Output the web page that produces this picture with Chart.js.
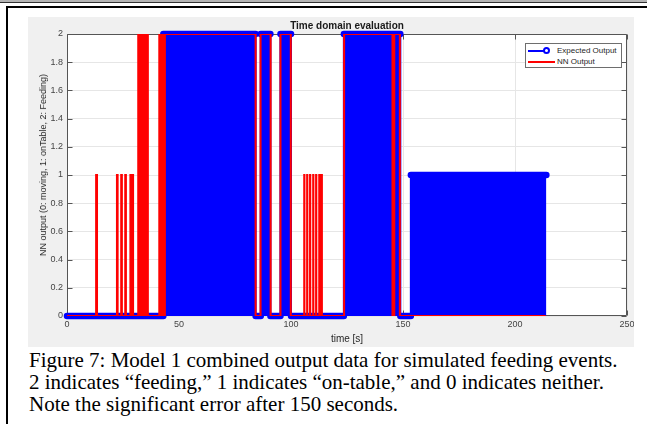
<!DOCTYPE html>
<html>
<head>
<meta charset="utf-8">
<title>Time domain evaluation</title>
<script src="https://cdn.jsdelivr.net/npm/chart.js@4.4.1/dist/chart.umd.min.js"></script>
<style>
  html, body { margin: 0; padding: 0; background: #fff; }
  body { width: 647px; height: 424px; position: relative; overflow: hidden; }
  .topbar { position: absolute; left: 0; top: 0; width: 647px; height: 2px; background: #b4b4b4; border-bottom: 1px solid #333; }
  .frame { position: absolute; left: 6px; top: 6px; width: 660px; height: 440px; border-left: 2px solid #000; border-top: 2px solid #000; }
  .plot { position: absolute; left: 28px; top: 17px; width: 606px; height: 330px; background: #f0f0f0; }
  .ylabel { position: absolute; left: 43px; top: 165px; transform: translate(-50%, -50%) rotate(-90deg); white-space: nowrap;
            font-family: Arial, "Liberation Sans", sans-serif; font-size: 9px; color: #262626; }
  .legend { position: absolute; left: 525px; top: 43px; width: 95px; height: 23px; background: #fff; border: 1px solid #6e6e6e;
            font-family: Arial, "Liberation Sans", sans-serif; font-size: 8px; color: #262626; }
  .legend .row { height: 11px; line-height: 11px; white-space: nowrap; }
  .legend .row:first-child { margin-top: 1px; }
  .key { position: relative; display: inline-block; width: 29px; height: 11px; vertical-align: top; margin-left: 2px; }
  .key::before { content: ""; position: absolute; left: 0; top: 4.5px; height: 2px; }
  .key.blue::before { width: 19px; background: #0000ff; height: 2.5px; }
  .key.blue i { position: absolute; left: 15px; top: 2px; width: 3px; height: 3px; border: 2.5px solid #0000ff; border-radius: 50%; background: #fff; }
  .key.red::before { width: 27px; background: #ff0000; }
  .caption { position: absolute; left: 29px; top: 349px; font-family: "Liberation Serif", "Times New Roman", serif;
             font-size: 21px; line-height: 22px; white-space: nowrap; color: #000; }
</style>
</head>
<body>
<div class="topbar"></div>
<div class="frame"></div>
<div class="plot"><canvas id="timeChart"></canvas></div>
<div class="ylabel">NN output (0: moving, 1: onTable, 2: Feeding)</div>
<div class="legend">
  <div class="row"><span class="key blue"><i></i></span>Expected Output</div>
  <div class="row"><span class="key red"></span>NN Output</div>
</div>
<div class="caption">Figure 7: Model 1 combined output data for simulated feeding events.<br>2 indicates “feeding,” 1 indicates “on-table,” and 0 indicates neither.<br>Note the significant error after 150 seconds.</div>

<script>
// --- DATA --- //
// expected output: time [s] where the level starts, and the level (last entry = end of record)
const expTime = [0, 43, 84.2, 86.5, 90.8, 95.3, 100, 123.6, 148.8, 153.5, 214];
const expValue = [0, 2, 0, 2, 0, 2, 0, 2, 0, 1, 1];

// NN output: time [s] where the output switches, and the new value
const nnTime = [0, 13.0, 13.4, 22.3, 22.6, 24.2, 24.5, 26.0, 26.3, 28.3, 28.7, 28.9, 29.5,
  31.8, 32.1, 32.3, 32.6, 32.8, 33.1, 33.3, 33.6, 33.8, 34.1, 34.3, 34.6, 34.8, 35.1, 35.3, 35.6, 35.8, 36.1,
  41.2, 41.5, 41.7, 42.0, 42.2, 42.5, 42.7, 43.0, 43.3, 43.5, 43.7,
  84.2, 86.4, 90.9, 95.3, 99.9,
  105.9, 106.0, 107.2, 107.3, 108.5, 108.6, 109.9, 110.0, 111.2, 111.3, 112.6, 112.7, 113.6, 113.8,
  123.7, 145.3, 146.1, 148.6, 213.7];
const nnValue = [0, 1, 0, 1, 0, 1, 0, 1, 0, 1, 0, 1, 0,
  2, 0, 2, 0, 2, 0, 2, 0, 2, 0, 2, 0, 2, 0, 2, 0, 2, 0,
  2, 0, 2, 0, 2, 0, 2, 0, 2, 0, 2,
  0, 2, 0, 2, 0,
  1, 0, 1, 0, 1, 0, 1, 0, 1, 0, 1, 0, 1, 0,
  2, 0, 2, 0, 0];

const xTicks = [0, 50, 100, 150, 200, 250];
const yTicks = [0, 0.2, 0.4, 0.6, 0.8, 1, 1.2, 1.4, 1.6, 1.8, 2];
const yTickLabels = ["0", "0.2", "0.4", "0.6", "0.8", "1", "1.2", "1.4", "1.6", "1.8", "2"];

// --- SERIES --- //
const expSteps = expTime.map((t, i) => ({ x: t, y: expValue[i] }));
const nnSteps = nnTime.map((t, i) => ({ x: t, y: nnValue[i] }));

// stem markers: one thick band per level (null breaks the line between levels)
const expMarkers = [];
for (let i = 0; i < expTime.length - 1; i++) {
  expMarkers.push({ x: expTime[i], y: expValue[i] }, { x: expTime[i + 1], y: expValue[i] }, { x: expTime[i + 1], y: null });
}

// --- PLOT BOX (white area, MATLAB style box + inward ticks) --- //
const axesBox = {
  id: "axesBox",
  beforeDraw(chart) {
    const { ctx, chartArea: a } = chart;
    ctx.save();
    ctx.fillStyle = "#fff";
    ctx.fillRect(a.left, a.top, a.width, a.height);
    ctx.restore();
  },
  beforeDatasetsDraw(chart) {
    const { ctx, chartArea: a, scales: { x, y } } = chart;
    const l = Math.round(a.left) + 0.5, r = Math.round(a.right) - 0.5;
    const t = Math.round(a.top) + 0.5, b = Math.round(a.bottom) - 0.5;
    ctx.save();
    ctx.strokeStyle = "#555";
    ctx.lineWidth = 1;
    ctx.beginPath();
    xTicks.forEach(v => {
      const px = Math.round(x.getPixelForValue(v)) + 0.5;
      ctx.moveTo(px, b); ctx.lineTo(px, b - 5);
      ctx.moveTo(px, t); ctx.lineTo(px, t + 5);
    });
    yTicks.forEach(v => {
      const py = Math.round(y.getPixelForValue(v)) + 0.5;
      ctx.moveTo(l, py); ctx.lineTo(l + 5, py);
      ctx.moveTo(r, py); ctx.lineTo(r - 5, py);
    });
    ctx.rect(l, t, r - l, b - t);
    ctx.stroke();
    ctx.restore();
  }
};

Chart.defaults.font.family = 'Arial, "Liberation Sans", Helvetica, sans-serif';

new Chart(document.getElementById("timeChart"), {
  type: "line",
  data: {
    datasets: [
      {
        label: "NN Output",
        data: nnSteps,
        stepped: true,
        borderColor: "#ff0000",
        borderWidth: 2,
        pointRadius: 0,
        fill: false,
        order: 1
      },
      {
        label: "Expected Output",
        data: expMarkers,
        borderColor: "#0000ff",
        borderWidth: 6.5,
        borderCapStyle: "round",
        borderJoinStyle: "round",
        pointRadius: 0,
        fill: false,
        clip: false,
        order: 2
      },
      {
        label: "Expected Output stems",
        data: expSteps,
        stepped: true,
        borderColor: "#0000ff",
        backgroundColor: "#0000ff",
        borderWidth: 2,
        pointRadius: 0,
        fill: "origin",
        order: 3
      }
    ]
  },
  options: {
    responsive: true,
    maintainAspectRatio: false,
    animation: false,
    events: [],
    layout: { padding: { left: 0, right: 7, top: 0, bottom: 0 } },
    plugins: {
      legend: { display: false },
      tooltip: { enabled: false },
      title: {
        display: true,
        fullSize: false,
        text: "Time domain evaluation",
        color: "#1a1a1a",
        font: { size: 10, weight: "bold" },
        padding: { top: 3, bottom: 2 }
      }
    },
    scales: {
      x: {
        type: "linear",
        min: 0,
        max: 250,
        afterBuildTicks: s => { s.ticks = xTicks.map(v => ({ value: v })); },
        afterFit: s => { s.height = 31; s.paddingLeft = 0; s.paddingRight = 0; },
        grid: { color: "#e6e6e6", drawTicks: false },
        border: { display: false },
        ticks: { padding: 3, color: "#444", font: { size: 9 }, maxRotation: 0, autoSkip: false },
        title: { display: true, text: "time [s]", color: "#262626", font: { size: 10 }, padding: { top: 0, bottom: 2 } }
      },
      y: {
        min: 0,
        max: 2,
        afterBuildTicks: s => { s.ticks = yTicks.map(v => ({ value: v })); },
        afterFit: s => { s.width = 39; },
        grid: { color: "#e6e6e6", drawTicks: false },
        border: { display: false },
        ticks: { padding: 4, color: "#444", font: { size: 9 }, autoSkip: false, callback: (v, i) => yTickLabels[i] }
      }
    }
  },
  plugins: [axesBox]
});
</script>
</body>
</html>
